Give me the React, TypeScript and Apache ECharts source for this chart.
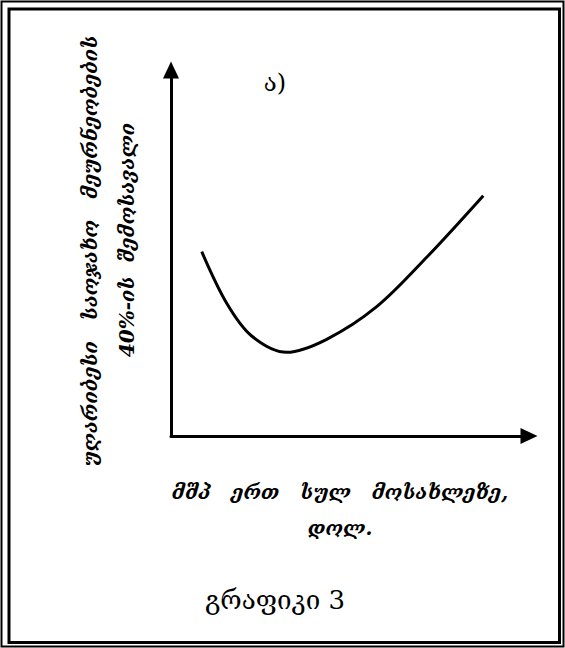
import React, { useEffect, useRef } from "react";
import * as echarts from "echarts";

const curveX = [8.58, 15.56, 22.54, 32.32, 43.49, 57.46, 71.42, 87.23];
const curveY = [50.36, 36.26, 27.32, 22.87, 26.42, 35.33, 48.83, 65.66];

const yLabelLines = ["უღარიბესი   საოჯახო   მეურნეობების", "40%-ის  შემოსავალი"];
const xLabelLines = ["მშპ   ერთ   სულ   მოსახლეზე,", "დოლ."];
const panelLabel = "ა)";
const title = "გრაფიკი 3";

export default function App() {
  const ref = useRef<HTMLDivElement>(null);
  useEffect(() => {
    document.body.style.margin = "0";
    const el = ref.current;
    if (!el) return;
    const chart = echarts.init(el, null, { renderer: "svg" });
    const labelFont = {
      fontFamily: "DejaVu Serif",
      fontStyle: "italic",
      fontWeight: "bold",
      fontSize: 20,
      fill: "#000",
    };
    chart.setOption({
      animation: false,
      backgroundColor: "#fff",
      grid: { left: 171, top: 70, right: 36, bottom: 212 },
      xAxis: {
        type: "value",
        min: 0,
        max: 100,
        splitLine: { show: false },
        axisTick: { show: false },
        axisLabel: { show: false },
        axisLine: {
          show: true,
          symbol: ["none", "triangle"],
          symbolSize: [16, 17],
          lineStyle: { color: "#000", width: 3 },
        },
      },
      yAxis: {
        type: "value",
        min: 0,
        max: 100,
        splitLine: { show: false },
        axisTick: { show: false },
        axisLabel: { show: false },
        axisLine: {
          show: true,
          symbol: ["none", "triangle"],
          symbolSize: [16, 17],
          lineStyle: { color: "#000", width: 3 },
        },
      },
      series: [
        {
          type: "line",
          data: curveX.map((x, i) => [x, curveY[i]]),
          smooth: 0.33,
          showSymbol: false,
          lineStyle: { color: "#000", width: 3 },
        },
      ],
      graphic: [
        {
          type: "rect",
          shape: { x: 1.5, y: 1.5, width: 562, height: 645 },
          style: { fill: "none", stroke: "#000", lineWidth: 2 },
          silent: true,
        },
        {
          type: "rect",
          shape: { x: 9, y: 9, width: 550.5, height: 633.5 },
          style: { fill: "none", stroke: "#000", lineWidth: 3 },
          silent: true,
        },
        {
          type: "text",
          x: 90,
          y: 251,
          rotation: Math.PI / 2,
          style: { ...labelFont, text: yLabelLines[0], textAlign: "center", textVerticalAlign: "middle" },
        },
        {
          type: "text",
          x: 127,
          y: 240,
          rotation: Math.PI / 2,
          style: { ...labelFont, text: yLabelLines[1], textAlign: "center", textVerticalAlign: "middle" },
        },
        {
          type: "text",
          x: 340,
          y: 492,
          style: { ...labelFont, text: xLabelLines[0], textAlign: "center", textVerticalAlign: "middle" },
        },
        {
          type: "text",
          x: 340,
          y: 528,
          style: { ...labelFont, text: xLabelLines[1], textAlign: "center", textVerticalAlign: "middle" },
        },
        {
          type: "text",
          x: 275,
          y: 83,
          style: { fontFamily: "DejaVu Serif", fontSize: 24, fill: "#000", text: panelLabel, textAlign: "center", textVerticalAlign: "middle" },
        },
        {
          type: "text",
          x: 275,
          y: 600,
          style: { fontFamily: "DejaVu Serif", fontSize: 26, fill: "#000", text: title, textAlign: "center", textVerticalAlign: "middle" },
        },
      ],
    });
    return () => chart.dispose();
  }, []);
  return <div ref={ref} style={{ width: 565, height: 648 }} />;
}
